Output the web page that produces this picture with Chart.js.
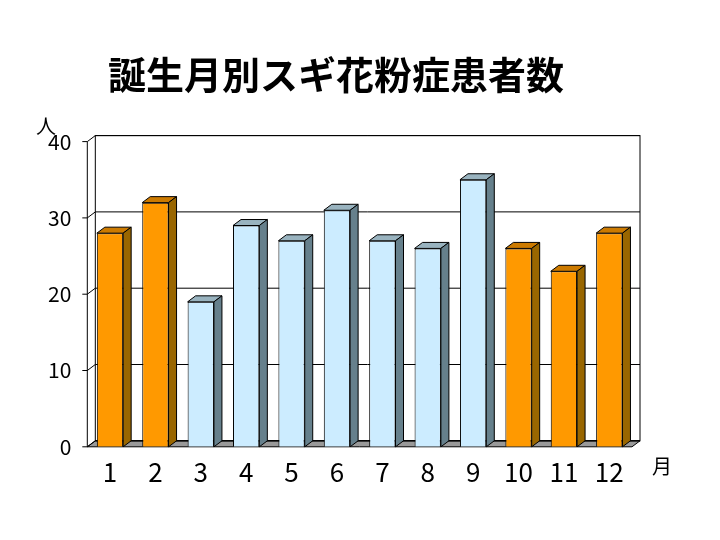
<!DOCTYPE html>
<html>
<head>
<meta charset="utf-8">
<script src="https://cdn.jsdelivr.net/npm/chart.js@4/dist/chart.umd.min.js"></script>
<style>
  body { margin: 0; background: #fff; }
  #wrap { width: 720px; height: 540px; }
</style>
</head>
<body>
<div id="wrap"><canvas id="chart"></canvas></div>
<script>
const months = ["1", "2", "3", "4", "5", "6", "7", "8", "9", "10", "11", "12"];
const patients = [28, 32, 19, 29, 27, 31, 27, 26, 35, 26, 23, 28];
const orangeMonths = ["1", "2", "10", "11", "12"];

const DX = 8;
const DY = 6;
const FONT = "'Noto Sans CJK JP', sans-serif";

function shade(hex) {
  return hex === "#FF9900" ? "#996600" : "#66808C";
}

function topShade(hex) {
  return hex === "#FF9900" ? "#CC7A00" : "#99B3BF";
}

const colors = months.map((m) => (orangeMonths.includes(m) ? "#FF9900" : "#CCECFF"));

const box3d = {
  id: "box3d",
  beforeDatasetsDraw(chart) {
    const { ctx, chartArea: a, scales } = chart;
    ctx.save();
    ctx.strokeStyle = "#000";
    ctx.lineWidth = 1;
    // floor
    ctx.fillStyle = "#999999";
    ctx.beginPath();
    ctx.moveTo(a.left, a.bottom);
    ctx.lineTo(a.left + DX, a.bottom - DY);
    ctx.lineTo(a.right + DX, a.bottom - DY);
    ctx.lineTo(a.right, a.bottom);
    ctx.closePath();
    ctx.fill();
    ctx.stroke();
    // back wall
    ctx.strokeRect(a.left + DX, a.top - DY, a.right - a.left, a.bottom - a.top);
    scales.y.ticks.forEach((t) => {
      const y = scales.y.getPixelForValue(t.value) - DY;
      ctx.beginPath();
      ctx.moveTo(a.left + DX, y);
      ctx.lineTo(a.right + DX, y);
      ctx.stroke();
      ctx.beginPath();
      ctx.moveTo(a.left - 5, y + DY);
      ctx.lineTo(a.left, y + DY);
      ctx.lineTo(a.left + DX, y);
      ctx.stroke();
    });
    // left wall edge
    ctx.beginPath();
    ctx.moveTo(a.left, a.top);
    ctx.lineTo(a.left, a.bottom);
    ctx.stroke();
    ctx.restore();
  },
  afterDatasetsDraw(chart) {
    const { ctx } = chart;
    ctx.save();
    ctx.strokeStyle = "#000";
    ctx.lineWidth = 1;
    chart.getDatasetMeta(0).data.forEach((bar, i) => {
      const l = bar.x - bar.width / 2;
      const r = bar.x + bar.width / 2;
      const t = bar.y;
      const b = bar.base;
      ctx.fillStyle = topShade(colors[i]);
      ctx.beginPath();
      ctx.moveTo(l, t);
      ctx.lineTo(l + DX, t - DY);
      ctx.lineTo(r + DX, t - DY);
      ctx.lineTo(r, t);
      ctx.closePath();
      ctx.fill();
      ctx.stroke();
      ctx.fillStyle = shade(colors[i]);
      ctx.beginPath();
      ctx.moveTo(r, t);
      ctx.lineTo(r + DX, t - DY);
      ctx.lineTo(r + DX, b - DY);
      ctx.lineTo(r, b);
      ctx.closePath();
      ctx.fill();
      ctx.stroke();
    });
    ctx.fillStyle = "#000";
    ctx.font = "20px " + FONT;
    ctx.textAlign = "center";
    ctx.textBaseline = "middle";
    ctx.fillText("人", 46, 126);
    ctx.fillText("月", 662, 466);
    ctx.restore();
  }
};

new Chart(document.getElementById("chart"), {
  type: "bar",
  data: {
    labels: months,
    datasets: [{
      data: patients,
      backgroundColor: colors,
      borderColor: "#000",
      borderWidth: 1,
      barPercentage: 0.58,
      categoryPercentage: 1
    }]
  },
  options: {
    responsive: true,
    maintainAspectRatio: false,
    animation: false,
    layout: { padding: { left: 40, right: 88, top: 0, bottom: 50 } },
    plugins: {
      legend: { display: false },
      tooltip: { enabled: false },
      title: {
        display: true,
        text: "誕生月別スギ花粉症患者数",
        color: "#000",
        font: { family: FONT, size: 38, weight: "bold" },
        padding: { top: 52, bottom: 44 }
      }
    },
    scales: {
      x: {
        grid: { display: false },
        border: { display: false },
        ticks: { color: "#000", font: { family: FONT, size: 26 }, padding: 2 }
      },
      y: {
        min: 0,
        max: 40,
        grid: { display: false },
        border: { display: false },
        ticks: { stepSize: 10, color: "#000", font: { family: FONT, size: 21 }, padding: 8 }
      }
    }
  },
  plugins: [box3d]
});
</script>
</body>
</html>
